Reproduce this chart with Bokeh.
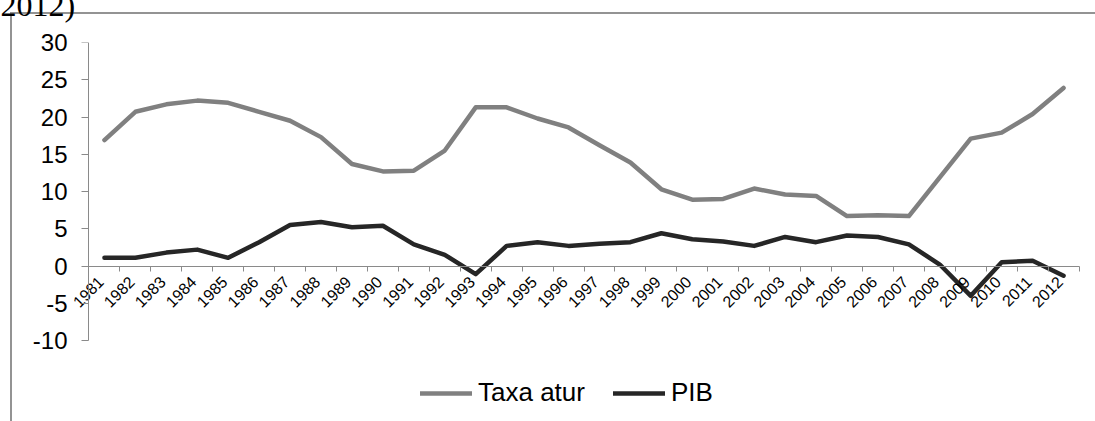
import math
from bokeh.plotting import figure
from bokeh.models import (FactorRange, FixedTicker, LinearAxis, Legend, LegendItem,
                          Range1d, CustomLabelingPolicy)
from bokeh.embed import file_html
from bokeh.resources import INLINE

header_text = "2012)"
years = ["1981", "1982", "1983", "1984", "1985", "1986", "1987", "1988", "1989", "1990",
         "1991", "1992", "1993", "1994", "1995", "1996", "1997", "1998", "1999", "2000",
         "2001", "2002", "2003", "2004", "2005", "2006", "2007", "2008", "2009", "2010",
         "2011", "2012"]
taxa_atur = [16.9, 20.7, 21.7, 22.2, 21.9, 20.7, 19.5, 17.3, 13.7, 12.7,
             12.8, 15.5, 21.3, 21.3, 19.8, 18.6, 16.2, 13.9, 10.3, 8.9,
             9.0, 10.4, 9.6, 9.4, 6.7, 6.8, 6.7, 11.9, 17.1, 17.9,
             20.4, 23.9]
pib = [1.1, 1.1, 1.8, 2.2, 1.1, 3.2, 5.5, 5.9, 5.2, 5.4,
       2.9, 1.5, -1.1, 2.7, 3.2, 2.7, 3.0, 3.2, 4.4, 3.6,
       3.3, 2.7, 3.9, 3.2, 4.1, 3.9, 2.9, 0.2, -4.0, 0.5,
       0.7, -1.3]
y_ticks = [-10, -5, 0, 5, 10, 15, 20, 25, 30]
y_tick_labels = ["-10", "-5", "0", "5", "10", "15", "20", "25", "30"]
series_names = ["Taxa atur", "PIB"]

FONT = "Liberation Sans"
AXIS_GRAY = "#8a8a8a"
BORDER_GRAY = "#939393"
SHIFT = 36  # canvas starts 36px above the window top
NO_LABELS = "return []"

host_styles = {
    "margin-top": f"-{SHIFT}px",
    "background-color": "white",
    "background-image": f"linear-gradient({BORDER_GRAY}, {BORDER_GRAY}), "
                        f"linear-gradient({BORDER_GRAY}, {BORDER_GRAY})",
    "background-size": "2px 100%, 100% 2px",
    "background-position": f"10px {12 + SHIFT}px, 10px {12 + SHIFT}px",
    "background-repeat": "no-repeat",
}

x_range = FactorRange(factors=years, range_padding=0.5, range_padding_units="absolute")
p = figure(width=1095, height=421 + SHIFT, x_range=x_range,
           y_range=Range1d(-20.2, 30), output_backend="svg", toolbar_location=None,
           min_border_left=73, min_border_right=1, min_border_top=42 + SHIFT,
           min_border_bottom=5, styles=host_styles, title=header_text)
p.background_fill_color = None
p.border_fill_color = None
p.outline_line_color = None
p.xgrid.visible = False
p.ygrid.visible = False

p.title.text_font = "Liberation Serif"
p.title.text_font_size = "32px"
p.title.text_font_style = "normal"
p.title.text_color = "black"
p.title.align = "left"
p.title.offset = -73
p.title.standoff = 39

r1 = p.line(x=years, y=taxa_atur, line_color="#808080", line_width=4.5,
            line_join="round", line_cap="round")
r2 = p.line(x=years, y=pib, line_color="#262626", line_width=4.5,
            line_join="round", line_cap="round")

# y tick labels (regular left axis, labels only)
yax = p.yaxis[0]
yax.ticker = FixedTicker(ticks=y_ticks)
yax.major_label_overrides = {t: s for t, s in zip(y_ticks, y_tick_labels)}
yax.axis_line_color = None
yax.major_tick_line_color = None
yax.major_tick_in = 0
yax.major_tick_out = 0
yax.minor_tick_line_color = None
yax.major_label_text_font = FONT
yax.major_label_text_font_size = "24px"
yax.major_label_text_color = "black"
yax.major_label_standoff = 6

# y axis line + ticks at the left edge of the first category
yline = LinearAxis(ticker=FixedTicker(ticks=y_ticks), fixed_location=0,
                   bounds=(y_ticks[0], y_ticks[-1]), axis_line_color=AXIS_GRAY,
                   major_tick_line_color=AXIS_GRAY, major_tick_in=0, major_tick_out=7,
                   minor_tick_line_color=None,
                   major_label_policy=CustomLabelingPolicy(code=NO_LABELS))
p.add_layout(yline, "left")

p.xaxis[0].visible = False

# x axis line at y = 0 with tick marks between categories
tick_axis = LinearAxis(ticker=FixedTicker(ticks=list(range(len(years) + 1))),
                       fixed_location=0, bounds=(0, len(years)), axis_line_color=AXIS_GRAY,
                       major_tick_line_color=AXIS_GRAY, major_tick_in=0, major_tick_out=5,
                       minor_tick_line_color=None,
                       major_label_policy=CustomLabelingPolicy(code=NO_LABELS))
p.add_layout(tick_axis, "below")

# rotated year labels hanging from the y = 0 line
label_pos = [i + 0.375 for i in range(len(years))]
label_axis = LinearAxis(ticker=FixedTicker(ticks=label_pos),
                        major_label_overrides={pos: yr for pos, yr in zip(label_pos, years)},
                        fixed_location=0, axis_line_color=None, major_tick_line_color=None,
                        major_tick_in=0, major_tick_out=0, minor_tick_line_color=None,
                        major_label_orientation=math.pi / 4,
                        major_label_text_font=FONT, major_label_text_font_size="16px",
                        major_label_text_color="black", major_label_standoff=13)
p.add_layout(label_axis, "below")

legend = Legend(items=[LegendItem(label=series_names[0], renderers=[r1]),
                       LegendItem(label=series_names[1], renderers=[r2])],
                location=(347, 8), orientation="horizontal",
                glyph_width=52, glyph_height=24, label_height=24, label_standoff=6, spacing=28,
                padding=0, margin=0, border_line_color=None, background_fill_alpha=0,
                label_text_font=FONT, label_text_font_size="26px", label_text_color="black")
p.add_layout(legend)

open("out.html", "w").write(file_html(p, INLINE))
